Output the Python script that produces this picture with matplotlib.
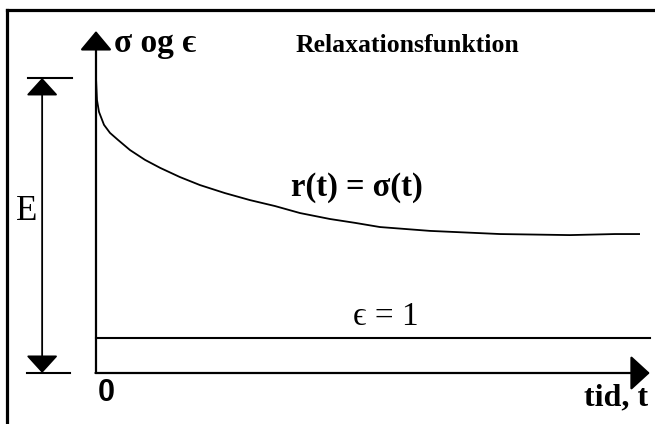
import matplotlib
matplotlib.use("Agg")
import matplotlib.pyplot as plt

# ---- data ----
t_curve = [0.0, 0.018, 0.055, 0.147, 0.257, 0.404, 0.625, 0.90, 1.18, 1.54, 1.91,
           2.37, 2.83, 3.29, 3.75, 4.30, 4.76, 5.22, 6.14, 7.43, 8.71, 9.54, 10.0]
r_curve = [8.43, 7.80, 7.46, 7.09, 6.86, 6.66, 6.37, 6.09, 5.86, 5.60, 5.37,
           5.14, 4.94, 4.77, 4.57, 4.40, 4.29, 4.17, 4.06, 3.97, 3.94, 3.97, 3.97]
eps_value = 1.0
t_end = 10.18
y_axis_top = 9.77
E_value = 8.43

title_text = "Relaxationsfunktion"
ylabel_text = "σ og ϵ"
xlabel_text = "tid, t"
curve_label = "r(t) = σ(t)"
eps_label = "ϵ = 1"
E_label = "E"
zero_label = "0"

serif = ["Liberation Serif", "DejaVu Serif"]

fig = plt.figure(figsize=(6.55, 4.24), dpi=100)
ax = fig.add_axes([7 / 655, 0, 1 - 7 / 655, (424 - 10) / 424])
ax.set_xlim(-1.636, 10.276)
ax.set_ylim(-1.457, 10.371)
for s in ["right", "bottom"]:
    ax.spines[s].set_visible(False)
for s in ["left", "top"]:
    ax.spines[s].set_linewidth(2.3)
ax.set_xticks([])
ax.set_yticks([])

# curve and epsilon line
ax.plot(t_curve, r_curve, color="black", lw=1.3, solid_capstyle="butt")
ax.plot([0, t_end], [eps_value, eps_value], color="black", lw=1.5)

# axes arrows
ax.annotate("", xy=(0, y_axis_top), xytext=(0, 0),
            arrowprops=dict(arrowstyle="-|>,head_length=12,head_width=10",
                            mutation_scale=1, lw=1.6, color="black",
                            shrinkA=0, shrinkB=0), annotation_clip=False)
ax.annotate("", xy=(t_end, 0), xytext=(-0.01, 0),
            arrowprops=dict(arrowstyle="-|>,head_length=12,head_width=11",
                            mutation_scale=1, lw=1.6, color="black",
                            shrinkA=0, shrinkB=0), annotation_clip=False)

# E double arrow with caps
xE = -0.99
ax.annotate("", xy=(xE, E_value), xytext=(xE, 0),
            arrowprops=dict(arrowstyle="<|-|>,head_length=11,head_width=10",
                            mutation_scale=1, lw=1.3, color="black",
                            shrinkA=0, shrinkB=0), annotation_clip=False)
ax.plot([-1.25, -0.44], [E_value, E_value], color="black", lw=1.5)
ax.plot([-1.27, -0.48], [0, 0], color="black", lw=1.5)

# texts
ax.text(0.33, 9.40, ylabel_text, family=serif, fontweight="bold", fontsize=24,
        ha="left", va="center")
ax.text(3.66, 9.37, title_text, family=serif, fontweight="bold", fontsize=18.5,
        ha="left", va="center")
ax.text(4.80, 5.31, curve_label, family=serif, fontweight="bold", fontsize=23.5,
        ha="center", va="center")
ax.text(5.33, 1.62, eps_label, family=serif, fontsize=24,
        ha="center", va="center")
ax.text(0.18, -0.57, zero_label, family="Liberation Sans", fontweight="bold",
        fontsize=22, ha="center", va="center")
ax.text(10.15, -0.72, xlabel_text, family=serif, fontweight="bold", fontsize=23,
        ha="right", va="center")
ax.text(-1.27, 4.6, E_label, family=serif, fontsize=25, ha="center", va="center")

fig.savefig("out.png", dpi=100)
